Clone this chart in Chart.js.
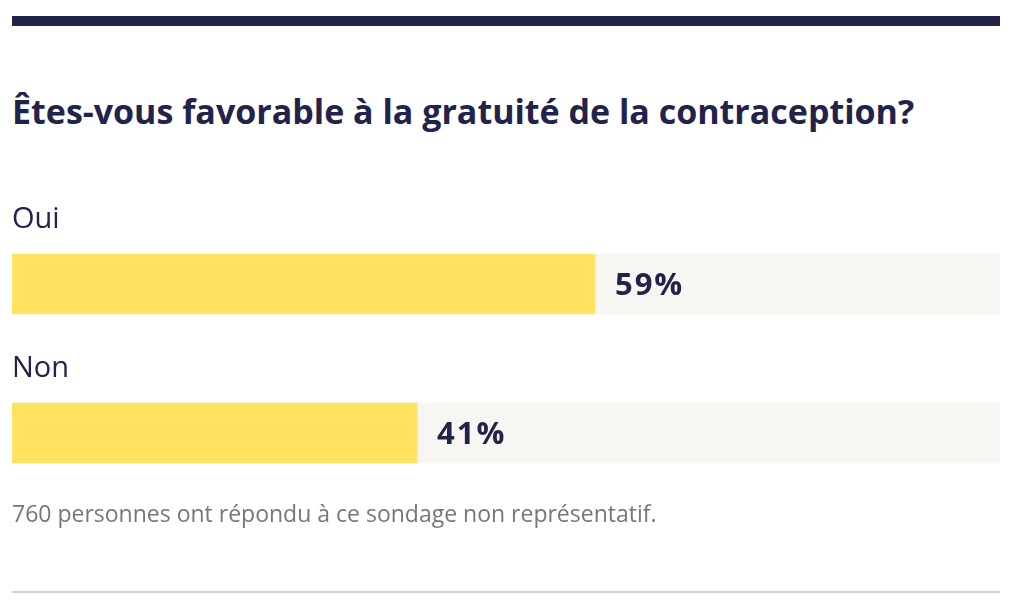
<!DOCTYPE html>
<html lang="fr">
<head>
<meta charset="utf-8">
<script src="https://cdn.jsdelivr.net/npm/chart.js@4/dist/chart.umd.min.js"></script>
<style>
  html, body { margin: 0; padding: 0; background: #fff; }
  body { width: 1012px; height: 610px; position: relative; overflow: hidden; font-family: "Open Sans", sans-serif; }
  .topbar { position: absolute; left: 12px; top: 16px; width: 988px; height: 10px; background: #22234a; }
  h1 { position: absolute; left: 12px; top: 89px; margin: 0; font-size: 34px; font-weight: 700; color: #22234a; line-height: 44px; white-space: nowrap; }
  .chart { position: absolute; left: 12px; top: 180px; width: 988px; height: 330px; }
  .note { position: absolute; left: 12px; top: 499px; margin: 0; font-size: 23px; color: #777; line-height: 28px; white-space: nowrap; }
  .bottomline { position: absolute; left: 12px; top: 591px; width: 988px; height: 2px; background: #d3d3d3; }
</style>
</head>
<body>
<div class="topbar"></div>
<h1>Êtes-vous favorable à la gratuité de la contraception?</h1>
<div class="chart"><canvas id="c"></canvas></div>
<p class="note">760 personnes ont répondu à ce sondage non représentatif.</p>
<div class="bottomline"></div>
<script>
// réponses du sondage
var categories = ["Oui", "Non"];
var percentages = [59, 41];
var remainder = percentages.map(function(v) { return 100 - v; });

var navy = "#22234a";

// écrit la catégorie au-dessus de chaque barre et le pourcentage à droite
var labelsPlugin = {
    id: "pollLabels",
    afterDatasetsDraw: function(chart) {
        var ctx = chart.ctx;
        var meta = chart.getDatasetMeta(0);
        ctx.save();
        ctx.fillStyle = navy;
        ctx.textBaseline = "alphabetic";
        ctx.textAlign = "left";
        meta.data.forEach(function(bar, i) {
            var top = bar.y - bar.height / 2;
            ctx.font = "400 29px 'Open Sans', sans-serif";
            ctx.letterSpacing = "0px";
            ctx.fillText(categories[i], chart.chartArea.left, top - 26);
            ctx.font = "700 31px 'Open Sans', sans-serif";
            ctx.letterSpacing = "2px";
            ctx.fillText(percentages[i] + "%", bar.x + 20, bar.y + 11);
        });
        ctx.restore();
    }
};

new Chart(document.getElementById("c").getContext("2d"), {
    type: "bar",
    data: {
        labels: categories,
        datasets: [
            { data: percentages, backgroundColor: "#ffe261", barThickness: 60 },
            { data: remainder, backgroundColor: "#f7f6f2", barThickness: 60 }
        ]
    },
    options: {
        indexAxis: "y",
        responsive: true,
        maintainAspectRatio: false,
        animation: false,
        layout: { padding: { top: 29.5, bottom: 2.5, left: 0, right: 0 } },
        scales: {
            x: { stacked: true, min: 0, max: 100, display: false },
            y: { stacked: true, display: false }
        },
        plugins: {
            legend: { display: false },
            tooltip: { enabled: false }
        }
    },
    plugins: [labelsPlugin]
});
</script>
</body>
</html>
